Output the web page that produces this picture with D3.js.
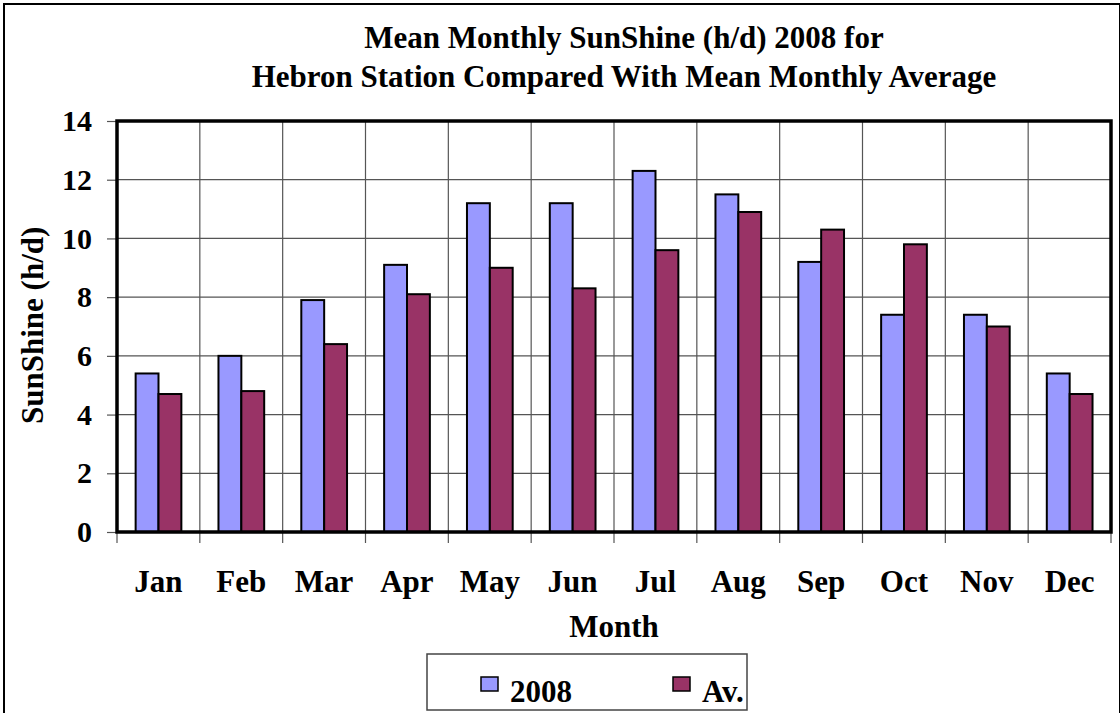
<!DOCTYPE html>
<meta charset="utf-8">
<style>
body { margin: 0; background: #fff; }
text { font-family: "Liberation Serif", "Times New Roman", serif; font-weight: bold; fill: #000; }
.grid line { stroke: #555; stroke-width: 1.2px; }
.bar { stroke: #000; stroke-width: 2px; }
</style>
<body>
<script src="https://d3js.org/d3.v7.min.js"></script>
<script>

// data
var months = ["Jan", "Feb", "Mar", "Apr", "May", "Jun", "Jul", "Aug", "Sep", "Oct", "Nov", "Dec"];
var series = ["2008", "Av."];
var sun2008 = [5.4, 6.0, 7.9, 9.1, 11.2, 11.2, 12.3, 11.5, 9.2, 7.4, 7.4, 5.4];
var sunAvg = [4.7, 4.8, 6.4, 8.1, 9.0, 8.3, 9.6, 10.9, 10.3, 9.8, 7.0, 4.7];
var yTicks = [0, 2, 4, 6, 8, 10, 12, 14];
var colors = ["#9999FF", "#993366"];

var W = 1120, H = 713;
var margin = {top: 121, right: 9, bottom: 181, left: 117},
    width = W - margin.left - margin.right,
    height = H - margin.top - margin.bottom;

var svg = d3.select("body").append("svg")
    .attr("width", W)
    .attr("height", H);

// outer frame
svg.append("rect")
    .attr("x", 4).attr("y", 4)
    .attr("width", W - 4).attr("height", H - 2)
    .attr("fill", "none").attr("stroke", "#000").attr("stroke-width", 2);

// title
svg.append("text").attr("x", 624).attr("y", 48).attr("text-anchor", "middle")
    .style("font-size", "31px").text("Mean Monthly SunShine (h/d) 2008 for");
svg.append("text").attr("x", 624).attr("y", 87).attr("text-anchor", "middle")
    .style("font-size", "31px").text("Hebron Station Compared With Mean Monthly Average");

var g = svg.append("g")
    .attr("transform", "translate(" + margin.left + "," + margin.top + ")");

var x = d3.scaleBand().domain(months).range([0, width]).padding(0);
var x1 = d3.scaleBand().domain(series)
    .range([x.bandwidth() * 0.225, x.bandwidth() * 0.777]).padding(0);
var y = d3.scaleLinear().domain([0, 14]).range([height, 0]);

// horizontal gridlines
g.append("g").attr("class", "grid")
  .selectAll("line").data(yTicks).enter().append("line")
    .attr("x1", 0).attr("x2", width)
    .attr("y1", function(d) { return y(d); })
    .attr("y2", function(d) { return y(d); });

// vertical gridlines at category boundaries + ticks below the axis
var bounds = months.map(function(m) { return x(m); }).concat([width]);
g.append("g").attr("class", "grid")
  .selectAll("line").data(bounds).enter().append("line")
    .attr("x1", function(d) { return d; }).attr("x2", function(d) { return d; })
    .attr("y1", 0).attr("y2", height + 11);

// bars
var groups = g.selectAll(".month").data(months).enter().append("g")
    .attr("transform", function(m) { return "translate(" + x(m) + ",0)"; });

groups.selectAll("rect")
    .data(function(m, i) { return [{s: series[0], v: sun2008[i]}, {s: series[1], v: sunAvg[i]}]; })
  .enter().append("rect")
    .attr("class", "bar")
    .attr("x", function(d) { return x1(d.s); })
    .attr("width", x1.bandwidth())
    .attr("y", function(d) { return y(d.v); })
    .attr("height", function(d) { return height - y(d.v); })
    .attr("fill", function(d, i) { return colors[i]; });

// y axis
var yAxis = g.append("g")
    .call(d3.axisLeft(y).tickValues(yTicks).tickSize(10).tickPadding(15));
yAxis.select(".domain").remove();
yAxis.selectAll(".tick line").attr("stroke", "#555").attr("stroke-width", 1.2);
yAxis.selectAll("text").style("font-size", "30px")
    .style("font-family", "Liberation Serif, serif").style("font-weight", "bold");

// x axis labels
var xAxis = g.append("g")
    .attr("transform", "translate(0," + height + ")")
    .call(d3.axisBottom(x).tickSize(0).tickPadding(38));
xAxis.select(".domain").remove();
xAxis.selectAll("text").style("font-size", "31px")
    .style("font-family", "Liberation Serif, serif").style("font-weight", "bold");

// plot border
g.append("rect")
    .attr("width", width).attr("height", height)
    .attr("fill", "none").attr("stroke", "#000").attr("stroke-width", 3.5);

// axis titles
svg.append("text").attr("x", 614).attr("y", 637).attr("text-anchor", "middle")
    .style("font-size", "31px").text("Month");
svg.append("text")
    .attr("transform", "translate(43,424) rotate(-90)")
    .style("font-size", "31px").text("SunShine (h/d)");

// legend
var legend = svg.append("g").attr("transform", "translate(427,654)");
legend.append("rect")
    .attr("width", 320).attr("height", 56)
    .attr("fill", "#fff").attr("stroke", "#444").attr("stroke-width", 1.5);
var legendX = [54, 246];
series.forEach(function(s, i) {
  legend.append("rect")
      .attr("x", legendX[i]).attr("y", 23)
      .attr("width", 17).attr("height", 14)
      .attr("fill", colors[i]).attr("stroke", "#000").attr("stroke-width", 1.5);
  legend.append("text")
      .attr("x", legendX[i] + 29).attr("y", 48)
      .style("font-size", "31px").text(s);
});

</script>
</body>
